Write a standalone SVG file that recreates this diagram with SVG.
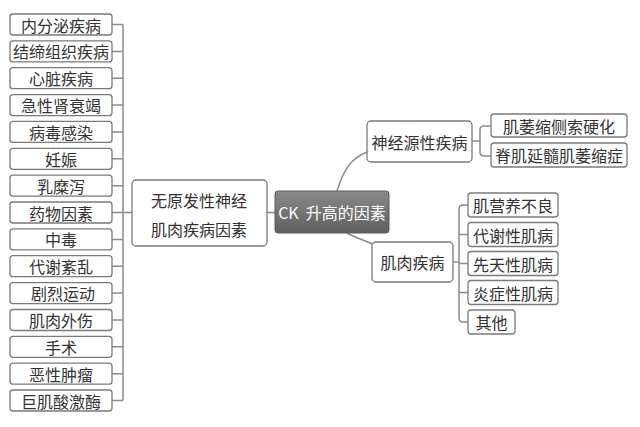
<svg xmlns="http://www.w3.org/2000/svg" width="640" height="427" viewBox="0 0 640 427">
<defs>
<style>
.b{fill:#fff;stroke:#7a7a7a;stroke-width:1.3}
.t{font-family:"Noto Sans CJK SC","Liberation Sans",sans-serif;font-size:16px;fill:#333;text-anchor:middle;dominant-baseline:central}
.w{fill:#fff;white-space:pre}
.c{fill:none;stroke:#8a8a8a;stroke-width:1.5}
</style>
<linearGradient id="g" x1="0" y1="0" x2="0" y2="1">
<stop offset="0" stop-color="#8a8a8a"/>
<stop offset="1" stop-color="#5e5e5e"/>
</linearGradient>
</defs>
<rect width="640" height="427" fill="#fff"/>
<g id="connectors">
<path class="c" d="M123 24.5V400.5"/>
<path class="c" d="M112 24.5H123M112 51.4H123M112 78.2H123M112 105.1H123M112 131.9H123M112 158.8H123M112 185.7H123M112 212.5H132M112 239.4H123M112 266.2H123M112 293.1H123M112 320H123M112 346.8H123M112 373.7H123M112 400.5H123"/>
<path class="c" d="M267 212.5H275"/>
<path class="c" d="M337 191C344 168 352 158 367 152"/>
<path class="c" d="M347 233C356 238 364 240 372 244"/>
<path class="c" d="M472 141H480M491 126H484Q480 126 480 130V152Q480 156 484 156H491"/>
<path class="c" d="M453 262H459M468 205H463Q459 205 459 209V318Q459 322 463 322H468M459 234.5H468M459 263.5H468M459 292.5H468"/>
</g>
<g id="n0"><rect class="b" x="10" y="14" width="102" height="21" rx="3"/><text class="t" x="61" y="24.5">内分泌疾病</text></g>
<g id="n1"><rect class="b" x="10" y="40.9" width="102" height="21" rx="3"/><text class="t" x="61" y="51.4">结缔组织疾病</text></g>
<g id="n2"><rect class="b" x="10" y="67.7" width="102" height="21" rx="3"/><text class="t" x="61" y="78.2">心脏疾病</text></g>
<g id="n3"><rect class="b" x="10" y="94.6" width="102" height="21" rx="3"/><text class="t" x="61" y="105.1">急性肾衰竭</text></g>
<g id="n4"><rect class="b" x="10" y="121.4" width="102" height="21" rx="3"/><text class="t" x="61" y="131.9">病毒感染</text></g>
<g id="n5"><rect class="b" x="10" y="148.3" width="102" height="21" rx="3"/><text class="t" x="61" y="158.8">妊娠</text></g>
<g id="n6"><rect class="b" x="10" y="175.2" width="102" height="21" rx="3"/><text class="t" x="61" y="185.7">乳糜泻</text></g>
<g id="n7"><rect class="b" x="10" y="202" width="102" height="21" rx="3"/><text class="t" x="61" y="212.5">药物因素</text></g>
<g id="n8"><rect class="b" x="10" y="228.9" width="102" height="21" rx="3"/><text class="t" x="61" y="239.4">中毒</text></g>
<g id="n9"><rect class="b" x="10" y="255.7" width="102" height="21" rx="3"/><text class="t" x="61" y="266.2">代谢紊乱</text></g>
<g id="n10"><rect class="b" x="10" y="282.6" width="102" height="21" rx="3"/><text class="t" x="63" y="293.1">剧烈运动</text></g>
<g id="n11"><rect class="b" x="10" y="309.5" width="102" height="21" rx="3"/><text class="t" x="61" y="320">肌肉外伤</text></g>
<g id="n12"><rect class="b" x="10" y="336.3" width="102" height="21" rx="3"/><text class="t" x="61" y="346.8">手术</text></g>
<g id="n13"><rect class="b" x="10" y="363.2" width="102" height="21" rx="3"/><text class="t" x="61" y="373.7">恶性肿瘤</text></g>
<g id="n14"><rect class="b" x="10" y="390" width="102" height="21" rx="3"/><text class="t" x="61" y="400.5">巨肌酸激酶</text></g>
<g id="nonprimary"><rect class="b" x="132" y="180" width="135" height="66" rx="4"/><text class="t" x="199" y="200">无原发性神经</text><text class="t" x="199" y="229">肌肉疾病因素</text></g>
<g id="root"><rect x="275" y="191" width="114" height="42" rx="3" fill="url(#g)" stroke="#5a5a5a" stroke-width="1"/><text class="t w" x="332" y="212" xml:space="preserve">CK  升高的因素</text></g>
<g id="neuro"><rect class="b" x="367" y="121" width="105" height="41" rx="4"/><text class="t" x="419.5" y="141.5">神经源性疾病</text></g>
<g id="als"><rect class="b" x="491" y="114" width="136" height="23" rx="3"/><text class="t" x="559" y="125.5">肌萎缩侧索硬化</text></g>
<g id="sbma"><rect class="b" x="491" y="143" width="136" height="24" rx="3"/><text class="t" x="559" y="155">脊肌延髓肌萎缩症</text></g>
<g id="muscle"><rect class="b" x="372" y="242" width="81" height="40" rx="4"/><text class="t" x="412.5" y="262">肌肉疾病</text></g>
<g id="m1"><rect class="b" x="468" y="193" width="90" height="24" rx="3"/><text class="t" x="513" y="205">肌营养不良</text></g>
<g id="m2"><rect class="b" x="468" y="222.5" width="90" height="24" rx="3"/><text class="t" x="513" y="234.5">代谢性肌病</text></g>
<g id="m3"><rect class="b" x="468" y="251.5" width="90" height="24" rx="3"/><text class="t" x="513" y="263.5">先天性肌病</text></g>
<g id="m4"><rect class="b" x="468" y="280.5" width="90" height="24" rx="3"/><text class="t" x="513" y="292.5">炎症性肌病</text></g>
<g id="m5"><rect class="b" x="468" y="310" width="47" height="24" rx="3"/><text class="t" x="491.5" y="322">其他</text></g>
</svg>
